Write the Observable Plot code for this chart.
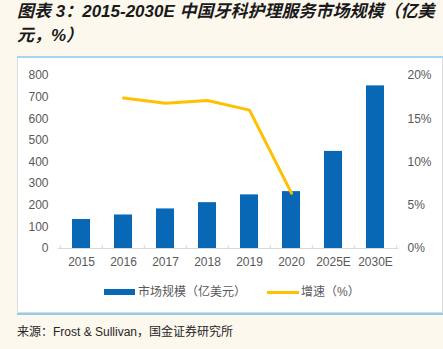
<!DOCTYPE html>
<html><head><meta charset="utf-8">
<script src="https://cdn.jsdelivr.net/npm/d3@7"></script>
<script src="https://cdn.jsdelivr.net/npm/@observablehq/plot@0.6"></script>
<style>
html,body{margin:0;padding:0;}
body{width:443px;height:349px;background:#fdf8ee;position:relative;overflow:hidden;font-family:"Liberation Sans","Noto Sans CJK SC",sans-serif;}
#title{position:absolute;left:17px;top:0px;font-size:17px;line-height:24px;font-weight:bold;font-style:italic;color:#1a1a1a;white-space:nowrap;font-family:"Liberation Sans","Noto Sans CJK SC",sans-serif;}
#bluetop{position:absolute;left:17px;top:56px;width:426px;height:2px;background:#a8d6ee;}
#panel{position:absolute;left:17px;top:58px;width:424px;height:254px;background:#fff;border:1px solid #dcdcdc;border-top:none;}
#bluebot{position:absolute;left:17px;top:313px;width:426px;height:2px;background:#8fcdec;}
#chart{position:absolute;left:0;top:60px;}
#legend{position:absolute;left:0;top:284px;width:443px;font-size:12px;color:#595959;}
.sw{position:absolute;}
.lt{position:absolute;top:0;line-height:16px;}
#source{position:absolute;left:17px;top:322px;font-size:12px;color:#262626;}
</style></head>
<body>
<div id="title">图表 3：2015-2030E 中国牙科护理服务市场规模（亿美<br>元，%）</div>
<div id="bluetop"></div>
<div id="panel"></div>
<div id="bluebot"></div>
<div id="chart"></div>
<div id="legend">
  <div class="sw" style="left:104px;top:5px;width:31px;height:6px;background:#0868b6;"></div>
  <div class="lt" style="left:138px;">市场规模（亿美元）</div>
  <div class="sw" style="left:267px;top:7px;width:32px;height:3px;background:#ffc000;"></div>
  <div class="lt" style="left:301px;">增速（%）</div>
</div>
<div id="source">来源：Frost &amp; Sullivan，国金证券研究所</div>
<script>
const years = ["2015","2016","2017","2018","2019","2020","2025E","2030E"];
const marketSize = [134, 155, 183, 212, 248, 263, 449, 752];
const growthYears = ["2016","2017","2018","2019","2020"];
const growthPct = [17.4, 16.8, 17.1, 16.0, 6.4];
const leftTicks = [0,100,200,300,400,500,600,700,800];
const rightTicks = [0,5,10,15,20];

const k = 800/20;
const bars = years.map((y,i)=>({year:y, value:marketSize[i]}));
const line = growthYears.map((y,i)=>({year:y, g:growthPct[i]*k}));

const chart = Plot.plot({
  width: 443,
  height: 215,
  marginLeft: 58,
  marginRight: 45,
  marginTop: 15,
  marginBottom: 27,
  style: {background: "transparent", fontFamily: "Liberation Sans, Arial, sans-serif", fontSize: "12px", color: "#595959"},
  x: {domain: years, paddingInner: 0.575, paddingOuter: 0.2875, label: null},
  y: {domain: [0, 800], label: null},
  marks: [
    Plot.barY(bars, {x: "year", y: "value", fill: "#0868b6"}),
    Plot.ruleY([0], {stroke: "#d9d9d9", strokeWidth: 1}),
    Plot.ruleX(years, {x: d=>d, dx: -21.2, y1: 0, y2: 14, stroke: "#d9d9d9"}),
    Plot.ruleX(["2030E"], {x: d=>d, dx: 21.2, y1: 0, y2: 14, stroke: "#d9d9d9"}),
    Plot.line(line, {x: "year", y: "g", stroke: "#ffc000", strokeWidth: 3, strokeLinejoin: "round"}),
    Plot.axisX({tickSize: 0, tickPadding: 9, fontSize: 12, fill: "#595959"}),
    Plot.axisY({ticks: leftTicks, anchor: "left", tickSize: 0, tickPadding: 10, fontSize: 12, fill: "#595959", label: null}),
    Plot.axisY({ticks: rightTicks.map(t=>t*k), anchor: "right", tickSize: 0, tickPadding: 9, fontSize: 12, fill: "#595959", label: null, tickFormat: d => (d/k) + "%"})
  ]
});
document.getElementById("chart").appendChild(chart);
</script>
</body></html>
